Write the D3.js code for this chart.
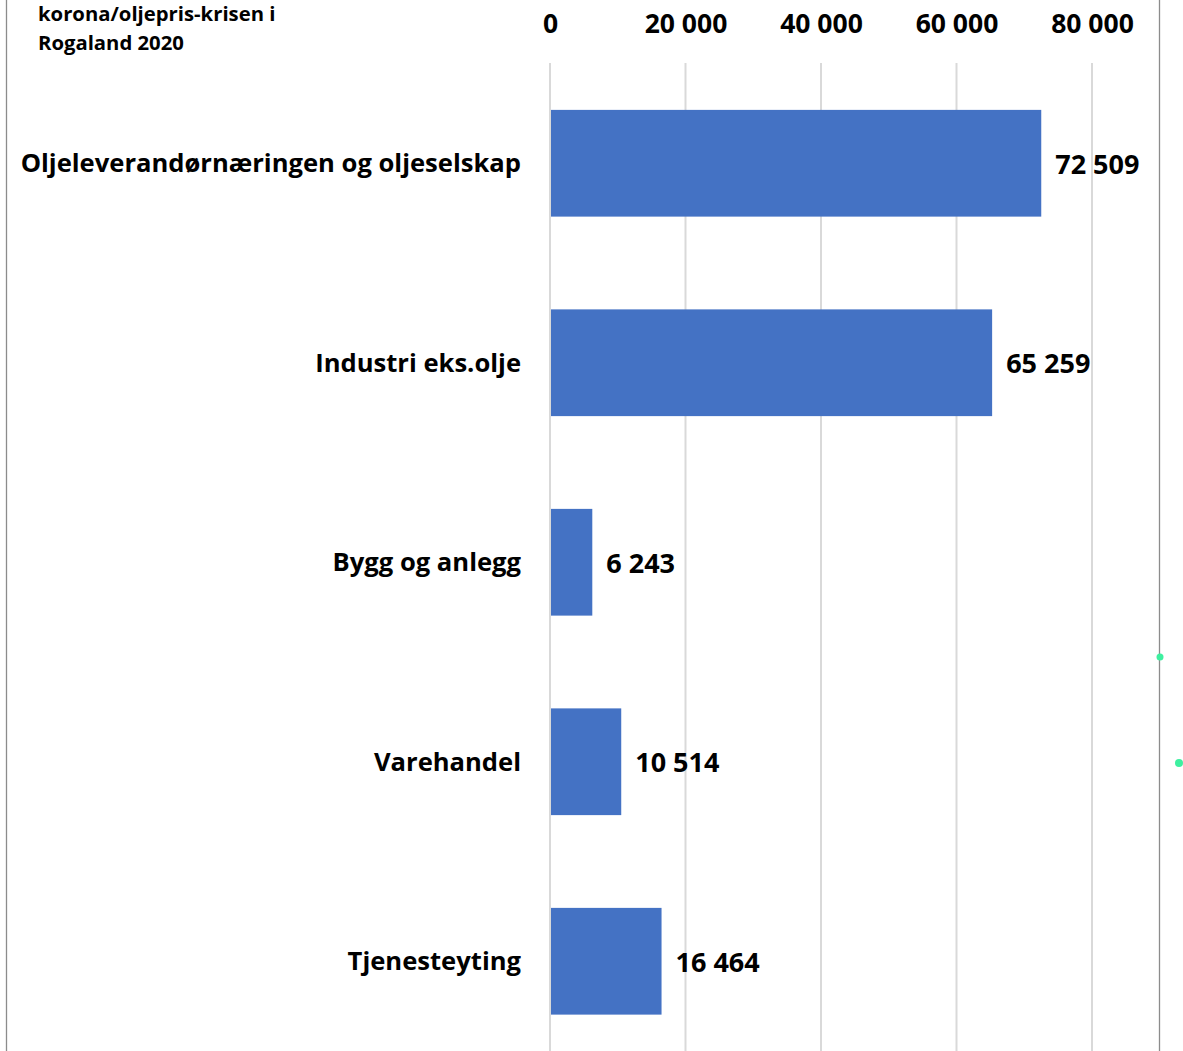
<!DOCTYPE html>
<html><head><meta charset="utf-8">
<script src="https://cdn.jsdelivr.net/npm/d3@7"></script>
<style>
html,body{margin:0;padding:0;background:#fff;}
svg{display:block;font-family:"Open Sans",sans-serif;font-weight:700;}
</style></head>
<body>
<svg id="chart" width="1183" height="1051"></svg>
<script>
const titleLines = ["korona/oljepris-krisen i", "Rogaland 2020"];
const categories = ["Oljeleverandørnæringen og oljeselskap", "Industri eks.olje", "Bygg og anlegg", "Varehandel", "Tjenesteyting"];
const values = [72509, 65259, 6243, 10514, 16464];
const tickValues = [0, 20000, 40000, 60000, 80000];

const svg = d3.select("#chart");
const fmt = v => d3.format(",")(v).replace(/,/g, " ");

const x = d3.scaleLinear().domain([0, 80000]).range([550, 1092]);
const y = d3.scaleBand().domain(categories).range([63.5, 1061]).paddingInner(0.465).paddingOuter(0.2325);

// borders
svg.append("line").attr("x1", 6.5).attr("x2", 6.5).attr("y1", 0).attr("y2", 1051).attr("stroke", "#8c8c8c").attr("stroke-width", 1.3);
svg.append("line").attr("x1", 1159.5).attr("x2", 1159.5).attr("y1", 0).attr("y2", 1051).attr("stroke", "#8c8c8c").attr("stroke-width", 1.3);

// gridlines
svg.append("g").selectAll("line").data(tickValues).join("line")
  .attr("x1", d => x(d)).attr("x2", d => x(d))
  .attr("y1", 63).attr("y2", 1051)
  .attr("stroke", "#d9d9d9").attr("stroke-width", 2);

// top axis labels
const axis = d3.axisTop(x).tickValues(tickValues).tickFormat(fmt).tickSize(0).tickPadding(0);
const ag = svg.append("g").attr("transform", "translate(0,33)").call(axis);
ag.select(".domain").remove();
ag.selectAll("text").attr("font-size", 26.5).attr("font-family", "'Open Sans',sans-serif").attr("font-weight", 700).attr("fill", "#000");

// bars
svg.append("g").selectAll("rect").data(values).join("rect")
  .attr("x", x(0) + 1)
  .attr("y", (d, i) => y(categories[i]))
  .attr("width", d => x(d) - x(0) - 1)
  .attr("height", y.bandwidth())
  .attr("fill", "#4472c4");

// value labels
svg.append("g").selectAll("text").data(values).join("text")
  .attr("x", d => x(d) + 14)
  .attr("y", (d, i) => y(categories[i]) + y.bandwidth() / 2)
  .attr("dy", "0.38em")
  .attr("font-size", 27)
  .attr("fill", "#000")
  .text(fmt);

// category labels
svg.append("g").selectAll("text").data(categories).join("text")
  .attr("x", 521)
  .attr("y", d => y(d) + y.bandwidth() / 2)
  .attr("dy", "0.36em")
  .attr("text-anchor", "end")
  .attr("font-size", 25.6)
  .attr("fill", "#000")
  .text(d => d);

// title
svg.append("g").selectAll("text").data(titleLines).join("text")
  .attr("x", 38)
  .attr("y", (d, i) => 21 + i * 29)
  .attr("font-size", 20.3)
  .attr("fill", "#000")
  .text(d => d);

// stray green dots
svg.append("circle").attr("cx", 1160).attr("cy", 657).attr("r", 3.5).attr("fill", "#3ef0a0");
svg.append("circle").attr("cx", 1179).attr("cy", 763).attr("r", 4).attr("fill", "#3ef0a0");
</script>
</body></html>
